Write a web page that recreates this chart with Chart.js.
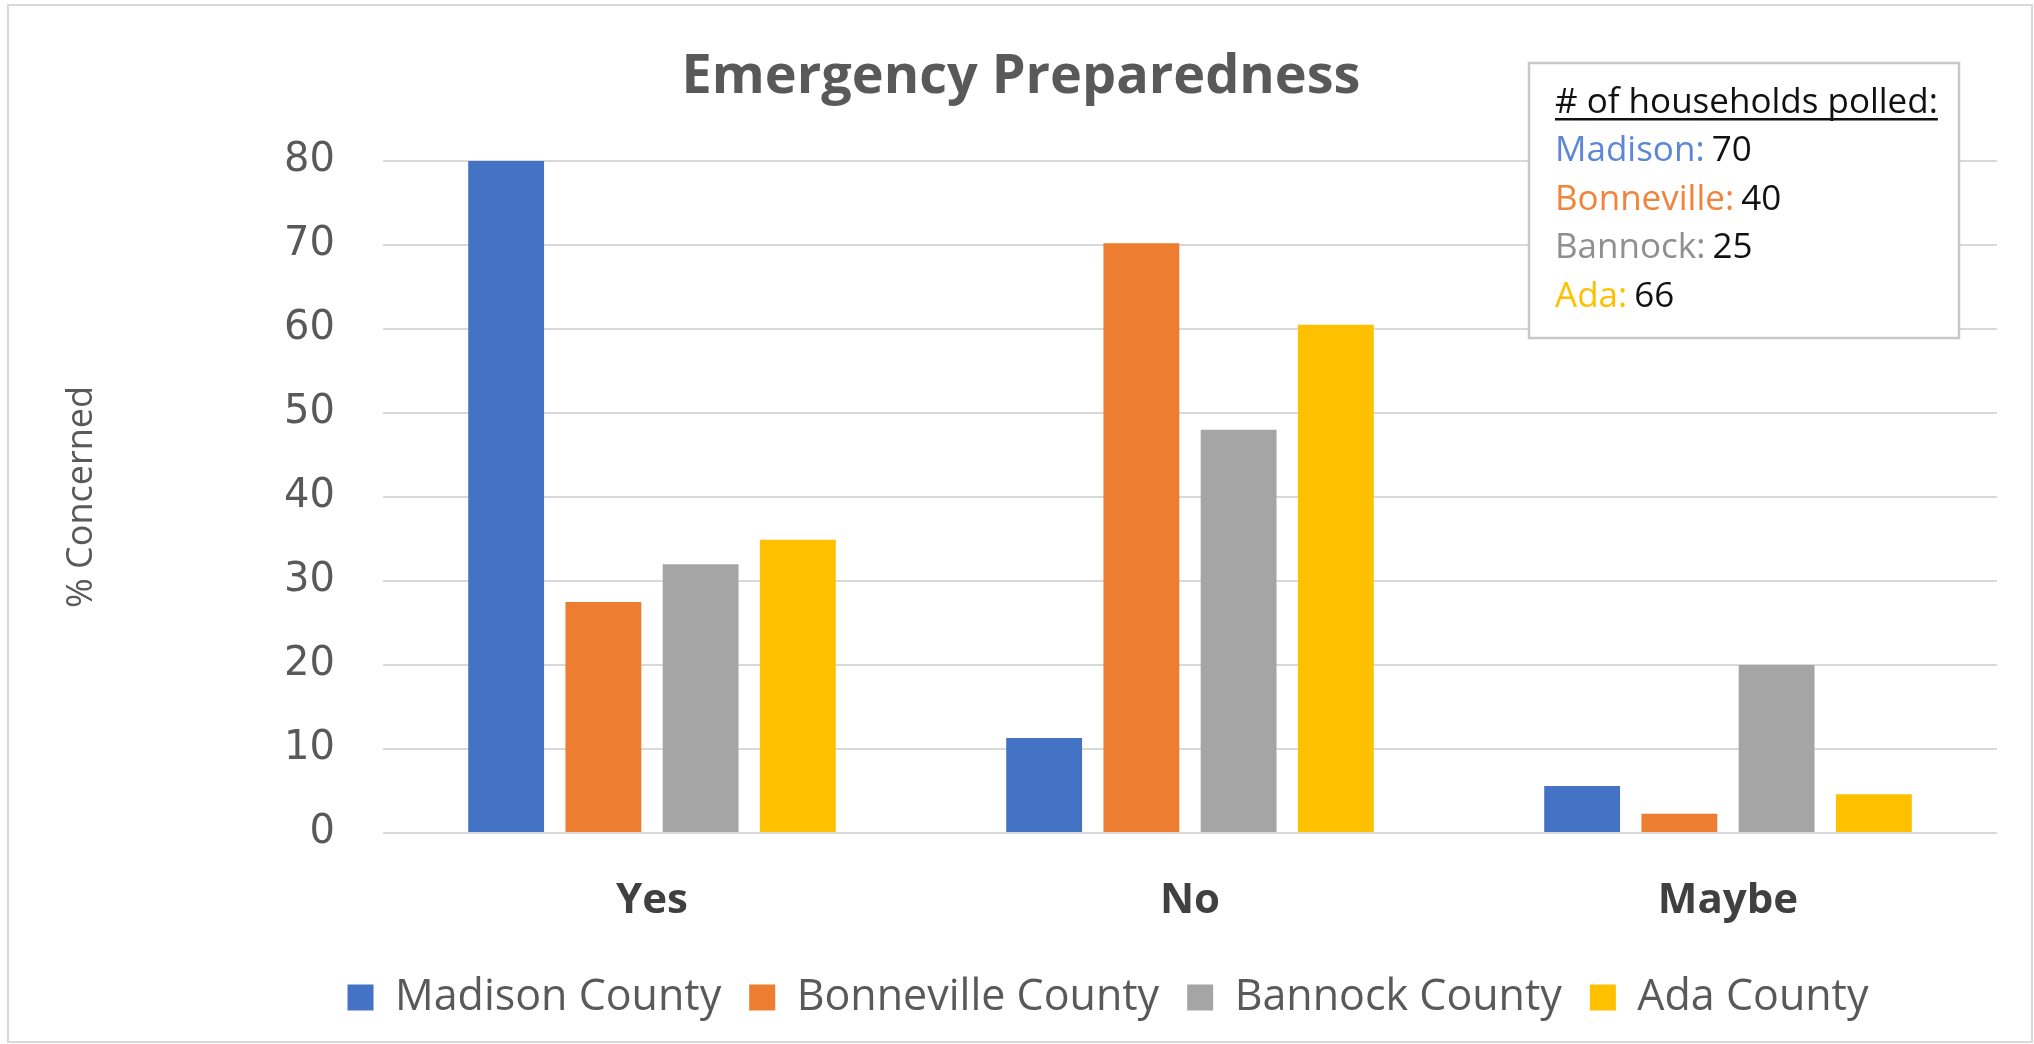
<!DOCTYPE html>
<html>
<head>
<meta charset="utf-8">
<title>Emergency Preparedness</title>
<script src="https://cdn.jsdelivr.net/npm/chart.js@4.4.1/dist/chart.umd.min.js"></script>
<style>
  html, body { margin: 0; padding: 0; background: #fff; }
  #wrap { width: 2034px; height: 1044px; }
</style>
</head>
<body>
<div id="wrap"><canvas id="chart" width="2034" height="1044"></canvas></div>
<script>
const categories = ["Yes", "No", "Maybe"];
const madison = [80, 11.3, 5.6];
const bonneville = [27.5, 70.2, 2.3];
const bannock = [32, 48, 20];
const ada = [34.9, 60.5, 4.6];
const countyNames = ["Madison County", "Bonneville County", "Bannock County", "Ada County"];

const pollTitle = "# of households polled:";
const pollNames = ["Madison", "Bonneville", "Bannock", "Ada"];
const householdsPolled = [70, 40, 25, 66];

const chartTitle = "Emergency Preparedness";
const yTitle = "% Concerned";

const barColors = ["#4472C4", "#ED7D31", "#A5A5A5", "#FFC000"];
const pollColors = ["#5B87D6", "#F0843C", "#8F8F8F", "#FFC000"];

// title, y title, outer border and the "households polled" box
const extras = {
  id: "extras",
  beforeDraw(chart) {
    const ctx = chart.ctx;
    ctx.save();
    ctx.fillStyle = "#fff";
    ctx.fillRect(0, 0, chart.width, chart.height);
    ctx.strokeStyle = "#D9D9D9";
    ctx.lineWidth = 2;
    ctx.strokeRect(8, 5, chart.width - 10, chart.height - 7);
    ctx.restore();
  },
  afterDraw(chart) {
    const ctx = chart.ctx;
    const area = chart.chartArea;
    ctx.save();

    ctx.fillStyle = "#595959";
    ctx.font = "bold 54px 'Open Sans'";
    ctx.textAlign = "center";
    ctx.textBaseline = "middle";
    ctx.fillText(chartTitle, 1021, 78);

    ctx.save();
    ctx.translate(82, (area.top + area.bottom) / 2);
    ctx.rotate(-Math.PI / 2);
    ctx.font = "36px 'Open Sans'";
    ctx.fillText(yTitle, 0, 0);
    ctx.restore();

    // households box
    const bx = 1529, by = 63, bw = 430, bh = 275;
    ctx.fillStyle = "#fff";
    ctx.fillRect(bx, by, bw, bh);
    ctx.strokeStyle = "#C8C8C8";
    ctx.lineWidth = 2.5;
    ctx.strokeRect(bx, by, bw, bh);

    ctx.textAlign = "left";
    ctx.textBaseline = "alphabetic";
    ctx.font = "35px 'Open Sans'";
    ctx.fillStyle = "#111";
    const tx = 1555;
    ctx.fillText(pollTitle, tx, 113);
    const tw = ctx.measureText(pollTitle).width;
    ctx.fillRect(tx, 118, tw, 2.5);

    for (let i = 0; i < pollNames.length; i++) {
      const y = 161 + i * 48.7;
      const label = pollNames[i] + ":";
      ctx.fillStyle = pollColors[i];
      ctx.fillText(label, tx, y);
      const w = ctx.measureText(label + " ").width;
      ctx.fillStyle = "#111";
      ctx.fillText(String(householdsPolled[i]), tx + w - 2, y);
    }
    ctx.restore();
  }
};

const seriesValues = [madison, bonneville, bannock, ada];

new Chart(document.getElementById("chart"), {
  type: "bar",
  data: {
    labels: categories,
    datasets: countyNames.map((name, i) => ({
      label: name,
      data: seriesValues[i],
      backgroundColor: barColors[i],
      borderWidth: 0,
      barPercentage: 0.78,
      categoryPercentage: 0.723,
    })),
  },
  options: {
    responsive: false,
    animation: false,
    layout: { padding: { left: 219, right: 37, top: 161, bottom: 15 } },
    plugins: {
      title: { display: false },
      tooltip: { enabled: false },
      legend: {
        position: "bottom",
        labels: {
          color: "#595959",
          font: { family: "'Open Sans'", size: 43 },
          boxWidth: 26,
          boxHeight: 26,
          padding: 28,
        },
      },
    },
    scales: {
      x: {
        grid: { display: false },
        border: { display: false },
        ticks: {
          color: "#404040",
          font: { family: "'Open Sans'", size: 42, weight: "bold" },
          padding: 35,
        },
        afterFit(scale) { scale.height = 115; },
      },
      y: {
        min: 0,
        max: 80,
        grid: { color: "#D9D9D9", lineWidth: 2, drawTicks: false },
        border: { display: false },
        ticks: {
          stepSize: 10,
          color: "#595959",
          font: { family: "'DejaVu Sans'", size: 40 },
          padding: 48,
        },
        afterFit(scale) { scale.width = 164; },
      },
    },
  },
  plugins: [extras],
});
</script>
</body>
</html>
